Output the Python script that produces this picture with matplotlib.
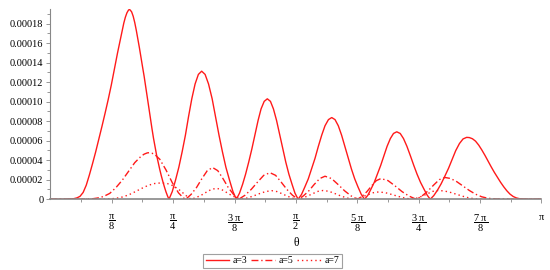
import numpy as np
import matplotlib
matplotlib.use("Agg")
import matplotlib.pyplot as plt
from matplotlib.ticker import FixedLocator, MultipleLocator

plt.rcParams['font.family'] = ['Liberation Serif', 'DejaVu Serif']
plt.rcParams['mathtext.fontset'] = 'custom'
plt.rcParams['mathtext.rm'] = 'Liberation Serif'
plt.rcParams['mathtext.it'] = 'Liberation Serif'
plt.rcParams['mathtext.bf'] = 'Liberation Serif:bold'

# ---- data (theta in rad, values in units of 1e-6) ----
theta_a3 = [0, 0.08, 0.12, 0.15, 0.17, 0.19, 0.21, 0.23, 0.25, 0.27, 0.29, 0.31, 0.33, 0.35, 0.37,
            0.39, 0.41, 0.43, 0.45, 0.46, 0.47, 0.48, 0.49, 0.50, 0.505, 0.51, 0.52, 0.53, 0.54,
            0.55, 0.56, 0.57, 0.58, 0.59, 0.60, 0.61, 0.62, 0.63, 0.64, 0.65, 0.66, 0.67, 0.68,
            0.69, 0.70, 0.71, 0.72, 0.73, 0.74, 0.75, 0.759,
            0.780, 0.801, 0.822, 0.843, 0.864, 0.884, 0.905, 0.926, 0.947, 0.968,
            0.990, 1.012, 1.035, 1.057, 1.079, 1.101, 1.123, 1.146, 1.168, 1.19,
            1.210, 1.230, 1.249, 1.269, 1.289, 1.309, 1.329, 1.348, 1.368, 1.388,
            1.408, 1.427, 1.447, 1.467, 1.487, 1.506, 1.526, 1.546, 1.565, 1.585,
            1.607, 1.628, 1.650, 1.671, 1.693, 1.714, 1.736, 1.757, 1.779, 1.800,
            1.821, 1.842, 1.863, 1.884, 1.905, 1.926, 1.947, 1.968, 1.989, 2.010,
            2.031, 2.051, 2.072, 2.092, 2.113, 2.134, 2.154, 2.175, 2.195, 2.216,
            2.238, 2.259, 2.281, 2.303, 2.325, 2.346, 2.368, 2.390, 2.411, 2.430,
            2.453, 2.477, 2.500, 2.523, 2.547, 2.570, 2.593, 2.617, 2.640, 2.663,
            2.68, 2.70, 2.72, 2.74, 2.76, 2.78, 2.80, 2.82, 2.84, 2.86, 2.88, 2.90, 2.92,
            2.94, 2.96, 2.98, 3.00, 3.03, 3.07, 3.1416]
value_a3 = [0, 0, 0.2, 0.6, 1.4, 3, 7, 14.5, 25, 36.5, 48.5, 61.5, 74.5, 88, 102,
            117, 133.5, 150, 165.5, 173, 180.5, 186.5, 191, 193.8, 194.3, 194, 192, 187.5, 181,
            173, 164, 155, 145, 135.5, 126, 115.5, 105, 94, 83, 72.5, 62.5, 53.5, 45,
            37.5, 30.5, 24, 18, 12.5, 7.5, 3.2, 0,
            7.9, 19.7, 32.8, 48.5, 65.6, 84.6, 103.0, 118.1, 127.9, 131.2,
            127.9, 118.1, 103.0, 84.6, 65.6, 48.5, 32.8, 19.7, 7.9, 0,
            6.2, 15.4, 25.7, 38.1, 51.5, 66.4, 80.8, 92.6, 100.3, 102.9,
            100.3, 92.6, 80.8, 66.4, 51.5, 38.1, 25.7, 15.4, 6.2, 0,
            5.0, 12.6, 20.9, 31.0, 41.9, 54.0, 65.7, 75.3, 81.6, 83.7,
            81.6, 75.3, 65.7, 54.0, 41.9, 31.0, 20.9, 12.6, 5.0, 0,
            4.1, 10.4, 17.3, 25.6, 34.6, 44.6, 54.2, 62.2, 67.4, 69.1,
            67.4, 62.2, 54.2, 44.6, 34.6, 25.6, 17.3, 10.4, 4.1, 0,
            3.8, 9.5, 15.9, 23.5, 31.7, 40.9, 49.8, 57.1, 61.8, 63.4,
            63.2, 62, 59.5, 55.5, 50.5, 45, 39, 33.2, 27.6, 22.4, 17.4, 12.8, 8.7,
            5.3, 2.9, 1.4, 0.6, 0.2, 0, 0]

theta_a5 = [0, 0.20, 0.26, 0.30, 0.34, 0.38, 0.42, 0.46, 0.50, 0.54, 0.58, 0.60, 0.62, 0.633,
            0.65, 0.67, 0.70, 0.74, 0.78, 0.82, 0.85, 0.866,
            0.900, 0.935, 0.969, 1.004, 1.038, 1.071, 1.105, 1.138, 1.172, 1.205,
            1.245, 1.285, 1.325, 1.365, 1.405, 1.441, 1.477, 1.513, 1.549, 1.585,
            1.619, 1.654, 1.688, 1.723, 1.757, 1.799, 1.840, 1.882, 1.923, 1.965,
            1.995, 2.025, 2.055, 2.085, 2.115, 2.160, 2.205, 2.250, 2.295, 2.34,
            2.377, 2.414, 2.451, 2.488, 2.525, 2.56, 2.60, 2.64, 2.68, 2.72, 2.76, 2.80,
            2.85, 2.92, 3.1416]
value_a5 = [0, 0, 0.3, 1.2, 2.8, 6, 12, 19.5, 28.5, 37.5, 44, 46.2, 47.5, 47.7,
            47.2, 45.5, 41, 30, 17, 6.5, 1.5, 0,
            4.9, 12.0, 21.0, 29.3, 32.5, 29.3, 21.0, 12.0, 4.9, 0,
            4.1, 10.1, 17.5, 24.5, 27.2, 24.5, 17.5, 10.1, 4.1, 0,
            3.5, 8.7, 15.2, 21.2, 23.6, 21.2, 15.2, 8.7, 3.5, 0,
            3.2, 7.8, 13.7, 19.1, 21.2, 19.1, 13.7, 7.8, 3.2, 0,
            3.3, 8.3, 14.4, 20.1, 22.3, 21.3, 18, 13.5, 9, 5.2, 2.5, 1,
            0.3, 0, 0]

theta_a7 = [0, 0.34, 0.38, 0.42, 0.46, 0.50, 0.54, 0.58, 0.62, 0.66, 0.71, 0.75, 0.79, 0.83,
            0.87, 0.90,
            0.932, 0.965, 0.997, 1.030, 1.062, 1.094, 1.125, 1.157, 1.188, 1.22,
            1.259, 1.298, 1.337, 1.377, 1.416, 1.449, 1.482, 1.514, 1.547, 1.58,
            1.613, 1.646, 1.679, 1.712, 1.745, 1.783, 1.821, 1.859, 1.897, 1.935,
            1.968, 2.001, 2.034, 2.067, 2.10, 2.143, 2.186, 2.229, 2.272, 2.315,
            2.348, 2.381, 2.414, 2.447, 2.48, 2.52, 2.56, 2.60, 2.64, 2.68, 2.72, 2.78,
            3.1416]
value_a7 = [0, 0, 0.3, 1, 2.3, 4.4, 7.5, 10.8, 13.8, 16, 16.8, 16, 13.5, 9,
            3.5, 0,
            1.7, 4.1, 7.2, 10.1, 11.2, 10.1, 7.2, 4.1, 1.7, 0,
            1.3, 3.3, 5.7, 7.9, 8.8, 7.9, 5.7, 3.3, 1.3, 0,
            1.35, 3.3, 5.8, 8.1, 9.0, 8.1, 5.8, 3.3, 1.35, 0,
            1.1, 2.8, 4.8, 6.75, 7.5, 6.75, 4.8, 2.8, 1.1, 0,
            1.35, 3.3, 5.8, 8.1, 9.0, 8.5, 7.0, 5.0, 3.0, 1.3, 0.4, 0,
            0]

labels = ['a=3', 'a=5', 'a=7']
xtick_labels = [r'$\dfrac{\pi}{8}$', r'$\dfrac{\pi}{4}$', r'$\dfrac{3\ \pi}{8}$', r'$\dfrac{\pi}{2}$',
                r'$\dfrac{5\ \pi}{8}$', r'$\dfrac{3\ \pi}{4}$', r'$\dfrac{7\ \pi}{8}$', r'$\pi$']
ytick_labels = ['0', '0.00002', '0.00004', '0.00006', '0.00008', '0.00010',
                '0.00012', '0.00014', '0.00016', '0.00018']

scale = 1e-6
red = '#ff1a1a'

fig = plt.figure(figsize=(5.5, 2.7), dpi=100)
ax = fig.add_axes([0.0915, 0.262, 0.893, 0.705])

ax.plot(theta_a3, np.array(value_a3) * scale, color=red, lw=1.0, ls='-', label=labels[0])
ax.plot(theta_a5, np.array(value_a5) * scale, color=red, lw=1.0, ls=(0, (5, 2, 1, 2)), label=labels[1])
ax.plot(theta_a7, np.array(value_a7) * scale, color=red, lw=1.0, ls=(0, (1, 2.2)), label=labels[2])

ax.set_xlim(0, np.pi)
ax.set_ylim(0, 1.95e-4)

for s in ['top', 'right']:
    ax.spines[s].set_visible(False)
ax.spines['left'].set_color('#888888')
ax.spines['bottom'].set_color('#888888')
ax.spines['left'].set_linewidth(0.8)
ax.spines['bottom'].set_linewidth(1.2)

ax.xaxis.set_major_locator(FixedLocator([np.pi * k / 8 for k in range(1, 9)]))
ax.xaxis.set_minor_locator(FixedLocator([np.pi * k / 16 for k in range(1, 16, 2)]))
ax.set_xticklabels(xtick_labels)
ax.yaxis.set_major_locator(FixedLocator([2e-5 * k for k in range(10)]))
ax.yaxis.set_minor_locator(MultipleLocator(1e-5))
ax.set_yticklabels(ytick_labels)

ax.tick_params(axis='both', which='both', direction='out', color='#888888', width=0.6)
ax.tick_params(axis='x', which='major', length=3, pad=7, labelsize=7.5)
ax.tick_params(axis='x', which='minor', length=2)
ax.tick_params(axis='y', which='major', length=3, pad=2, labelsize=7.5)
ax.tick_params(axis='y', which='minor', length=2)

ax.set_xlabel('θ', fontsize=8.5, labelpad=2)

leg = fig.legend(loc='center', bbox_to_anchor=(0.4955, 0.0344), ncol=3, fontsize=7,
                 frameon=True, fancybox=False, edgecolor='#888888', handlelength=2.4,
                 handletextpad=0.4, columnspacing=0.4, borderpad=0.25, borderaxespad=0)
leg.get_frame().set_linewidth(0.8)

fig.savefig('out.png', dpi=100)
